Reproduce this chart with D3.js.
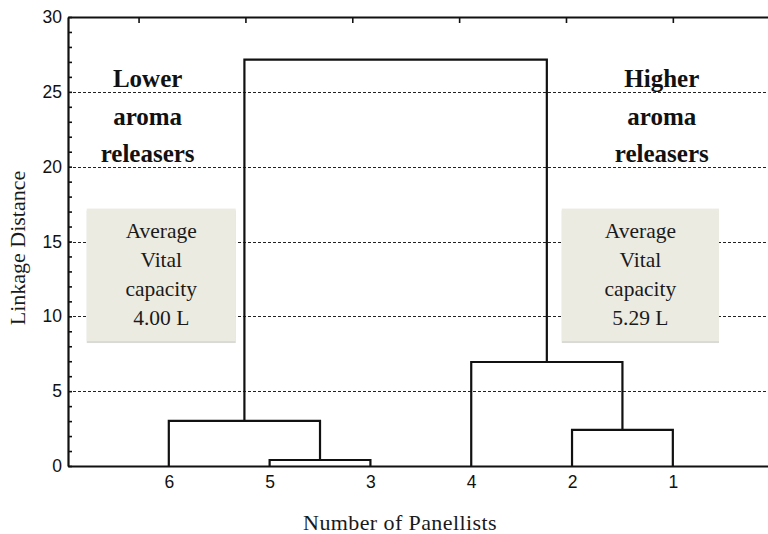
<!DOCTYPE html>
<html>
<head>
<meta charset="utf-8" />
<title>Dendrogram of panellists</title>
<script src="https://d3js.org/d3.v7.min.js"></script>
<style>
  body { margin: 0; background: #fff; }
  svg { display: block; }
</style>
</head>
<body>
<svg id="chart" width="768" height="534"></svg>
<script>
// leaves, left to right
var leaves = ["6", "5", "3", "4", "2", "1"];
// merges: node id, the two joined nodes, linkage distance
var mergeIds = ["A", "B", "C", "D", "E"];
var mergeLeft = ["5", "2", "6", "4", "C"];
var mergeRight = ["3", "1", "A", "B", "D"];
var mergeHeight = [0.4, 2.42, 3.02, 6.95, 27.15];

var yTicks = d3.range(0, 31);
var yLabels = [0, 5, 10, 15, 20, 25, 30];
var gridValues = [5, 10, 15, 20, 25];
var topTicks = [0.70, 1.76, 2.82, 3.88, 4.94, 6.0];

var groupNames = [["Lower", "aroma", "releasers"], ["Higher", "aroma", "releasers"]];
var groupCenter = [0.79, 5.89];
var boxText = [["Average", "Vital", "capacity", "4.00 L"], ["Average", "Vital", "capacity", "5.29 L"]];
var boxX0 = [0.186, 4.898];
var boxX1 = [1.664, 6.458];
var boxTop = 17.2, boxBottom = 8.35;

var svg = d3.select("#chart");
var x = d3.scaleLinear().domain([0, 6.944]).range([68, 768]);
var y = d3.scaleLinear().domain([0, 30]).range([466, 17]);

// dotted grid
svg.append("g").selectAll("line")
  .data(gridValues).enter().append("line")
  .attr("x1", x(0)).attr("x2", x(6.944))
  .attr("y1", function(d) { return Math.round(y(d)) + 0.5; })
  .attr("y2", function(d) { return Math.round(y(d)) + 0.5; })
  .attr("stroke", "#222").attr("stroke-width", 1)
  .attr("stroke-dasharray", "3,2");

// axes
var yAxis = d3.axisLeft(y).tickValues(yTicks).tickSizeInner(-4).tickSizeOuter(0).tickPadding(6)
  .tickFormat(function(d) { return yLabels.indexOf(d) >= 0 ? d : ""; });
var gy = svg.append("g").attr("transform", "translate(" + x(0) + ",0)").call(yAxis);

var gt = svg.append("g").attr("transform", "translate(0," + y(30) + ")")
  .call(d3.axisTop(x).tickValues(topTicks).tickSizeInner(-6).tickSizeOuter(0).tickFormat(""));

var gb = svg.append("g").attr("transform", "translate(0," + y(0) + ")")
  .call(d3.axisBottom(x).tickValues(d3.range(1, 7)).tickSize(0).tickPadding(10)
    .tickFormat(function(d) { return leaves[d - 1]; }));

[gy, gt, gb].forEach(function(g) {
  g.select(".domain").attr("stroke", "#111").attr("stroke-width", 2.2);
  g.selectAll(".tick line").attr("stroke", "#111").attr("stroke-width", 1.6);
  g.selectAll("text").attr("fill", "#111")
    .style("font-family", "'Liberation Sans', Arial, sans-serif").style("font-size", "17.5px");
});

// info boxes
var boxes = svg.append("g").selectAll("g").data(boxText).enter().append("g");
boxes.append("rect")
  .attr("x", function(d, i) { return x(boxX0[i]); })
  .attr("y", y(boxTop) + 2)
  .attr("width", function(d, i) { return x(boxX1[i]) - x(boxX0[i]); })
  .attr("height", y(boxBottom) - y(boxTop))
  .attr("fill", "#d9d9d6");
boxes.append("rect")
  .attr("x", function(d, i) { return x(boxX0[i]); })
  .attr("y", y(boxTop))
  .attr("width", function(d, i) { return x(boxX1[i]) - x(boxX0[i]); })
  .attr("height", y(boxBottom) - y(boxTop))
  .attr("fill", "#ecebe1");
boxes.each(function(lines, i) {
  var cx = (x(boxX0[i]) + x(boxX1[i])) / 2;
  d3.select(this).selectAll("text").data(lines).enter().append("text")
    .attr("x", cx)
    .attr("y", function(d, j) { return y(boxTop) + 29 + j * 29.3; })
    .attr("text-anchor", "middle")
    .style("font-family", "'Liberation Serif', 'Times New Roman', serif")
    .style("font-size", "21.5px")
    .attr("fill", "#1a1a1a")
    .text(function(d) { return d; });
});

// group labels
svg.append("g").selectAll("g").data(groupNames).enter().append("g")
  .each(function(lines, i) {
    d3.select(this).selectAll("text").data(lines).enter().append("text")
      .attr("x", x(groupCenter[i]))
      .attr("y", function(d, j) { return 87 + j * 37.5; })
      .attr("text-anchor", "middle")
      .style("font-family", "'Liberation Serif', 'Times New Roman', serif")
      .style("font-size", "25px").style("font-weight", "bold")
      .attr("fill", "#111")
      .text(function(d) { return d; });
  });

// dendrogram
var nodeX = {}, nodeH = {};
leaves.forEach(function(l, i) { nodeX[l] = x(i + 1); nodeH[l] = 0; });
var links = [];
mergeIds.forEach(function(id, i) {
  var a = mergeLeft[i], b = mergeRight[i], h = mergeHeight[i];
  var xa = nodeX[a], xb = nodeX[b];
  links.push("M" + xa + "," + y(nodeH[a]) + "V" + y(h) + "H" + xb + "V" + y(nodeH[b]));
  nodeX[id] = (xa + xb) / 2;
  nodeH[id] = h;
});
svg.append("g").selectAll("path").data(links).enter().append("path")
  .attr("d", function(d) { return d; })
  .attr("fill", "none").attr("stroke", "#111").attr("stroke-width", 2.2);

// axis titles
svg.append("text")
  .attr("x", 400).attr("y", 530)
  .attr("text-anchor", "middle")
  .style("font-family", "'Liberation Serif', 'Times New Roman', serif")
  .style("font-size", "22px").style("letter-spacing", "0.4px").attr("fill", "#1a1a1a")
  .text("Number of Panellists");
svg.append("text")
  .attr("transform", "translate(25,248) rotate(-90)")
  .attr("text-anchor", "middle")
  .style("font-family", "'Liberation Serif', 'Times New Roman', serif")
  .style("font-size", "22px").attr("fill", "#1a1a1a")
  .text("Linkage Distance");
</script>
</body>
</html>
